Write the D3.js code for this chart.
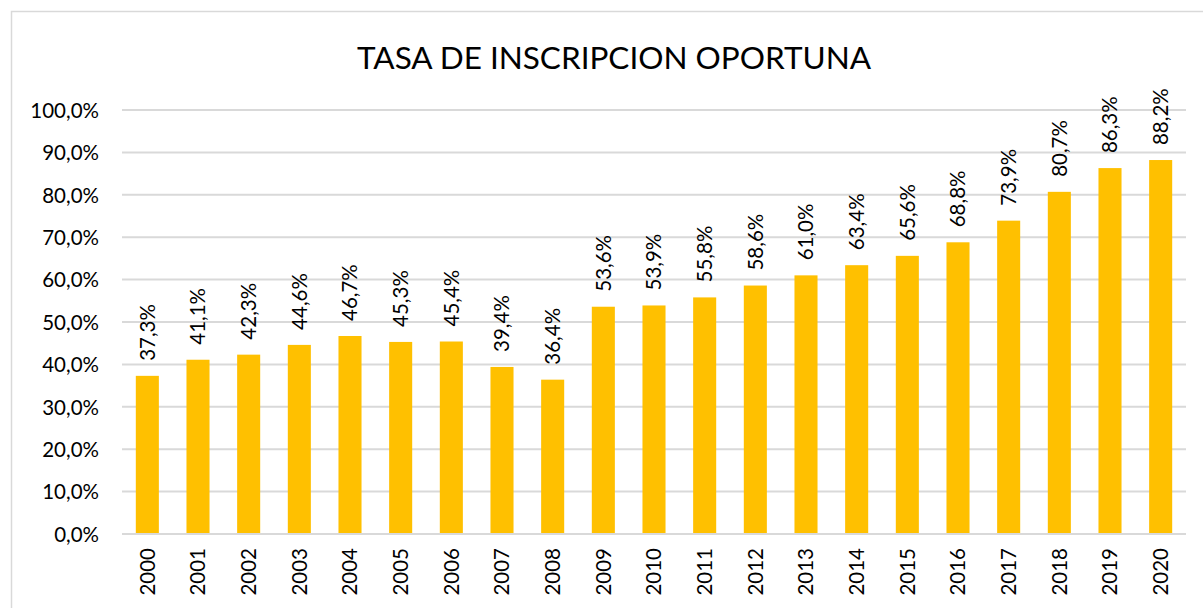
<!DOCTYPE html>
<html>
<head>
<meta charset="utf-8">
<script src="https://cdn.jsdelivr.net/npm/d3@7"></script>
<style>
  html, body { margin: 0; padding: 0; background: #fff; }
  svg { display: block; font-family: Lato, "Open Sans", sans-serif; }
</style>
</head>
<body>
<svg id="chart" width="1203" height="608"></svg>
<script>
// Tasa de inscripción oportuna, 2000–2020 (%)
const years = ["2000","2001","2002","2003","2004","2005","2006","2007","2008","2009","2010",
               "2011","2012","2013","2014","2015","2016","2017","2018","2019","2020"];
const rates = [37.3, 41.1, 42.3, 44.6, 46.7, 45.3, 45.4, 39.4, 36.4, 53.6, 53.9,
               55.8, 58.6, 61.0, 63.4, 65.6, 68.8, 73.9, 80.7, 86.3, 88.2];
const yTicks = [0, 10, 20, 30, 40, 50, 60, 70, 80, 90, 100];
const title = "TASA DE INSCRIPCION OPORTUNA";

const fmt = v => v.toFixed(1).replace(".", ",") + "%";

const svg = d3.select("#chart");
const W = 1203, H = 608;
const plot = { left: 122, right: 1186, top: 110, bottom: 534 };

// outer chart frame
svg.append("rect")
  .attr("x", 11.5).attr("y", 11.5)
  .attr("width", W + 20).attr("height", H + 20)
  .attr("fill", "#fff").attr("stroke", "#d9d9d9").attr("stroke-width", 1.5);

const x = d3.scaleBand().domain(years).range([plot.left, plot.right]).paddingInner(0.545).paddingOuter(0.2725);
const y = d3.scaleLinear().domain([0, 100]).range([plot.bottom, plot.top]);

// horizontal gridlines
svg.append("g").selectAll("line").data(yTicks).join("line")
  .attr("x1", plot.left).attr("x2", plot.right)
  .attr("y1", d => y(d)).attr("y2", d => y(d))
  .attr("stroke", "#d9d9d9").attr("stroke-width", 2);

// y-axis tick labels
const yAxis = d3.axisLeft(y).tickValues(yTicks).tickFormat(fmt).tickSize(0).tickPadding(0);
svg.append("g")
  .attr("transform", `translate(99,0)`)
  .call(yAxis)
  .call(g => g.select(".domain").remove())
  .selectAll("text")
  .attr("font-family", "Lato, sans-serif")
  .attr("font-size", 20.5)
  .attr("fill", "#000")
  .attr("dy", "0.36em");

// bars
svg.append("g").selectAll("rect").data(rates).join("rect")
  .attr("x", (d, i) => x(years[i]))
  .attr("width", x.bandwidth())
  .attr("y", d => y(d))
  .attr("height", d => y(0) - y(d))
  .attr("fill", "#FFC000");

// baseline
svg.append("line")
  .attr("x1", plot.left).attr("x2", plot.right)
  .attr("y1", y(0)).attr("y2", y(0))
  .attr("stroke", "#d9d9d9").attr("stroke-width", 2);

// value labels, rotated above each bar
svg.append("g").selectAll("text").data(rates).join("text")
  .attr("transform", (d, i) => `translate(${x(years[i]) + x.bandwidth() / 2},${y(d) - 15}) rotate(-90)`)
  .attr("text-anchor", "start")
  .attr("dy", "0.36em")
  .attr("font-size", 20.5)
  .attr("fill", "#000")
  .text(fmt);

// x-axis year labels, rotated
const xAxis = d3.axisBottom(x).tickSize(0).tickPadding(0);
svg.append("g")
  .attr("transform", `translate(0,${plot.bottom})`)
  .call(xAxis)
  .call(g => g.select(".domain").remove())
  .selectAll("text")
  .attr("font-family", "Lato, sans-serif")
  .attr("font-size", 20.5)
  .attr("fill", "#000")
  .attr("text-anchor", "end")
  .attr("transform", "translate(0,14) rotate(-90)")
  .attr("x", 0).attr("y", 0)
  .attr("dy", "0.36em");

// title
svg.append("text")
  .attr("x", 614).attr("y", 69)
  .attr("text-anchor", "middle")
  .attr("font-size", 31.5)
  .attr("fill", "#000")
  .text(title);
</script>
</body>
</html>
